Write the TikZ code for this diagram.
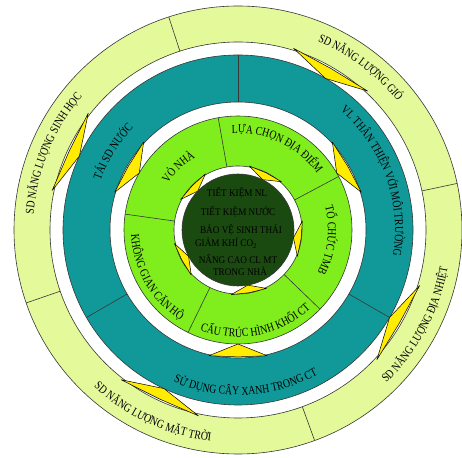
\documentclass[tikz,border=0pt]{standalone}
\usepackage{fontspec}
\setmainfont{Liberation Serif}
\newfontfamily\ringfont{Liberation Serif}[FakeStretch=0.82]
\newfontfamily\corefont{Liberation Serif}[FakeStretch=0.9]
\usetikzlibrary{decorations.text}

\definecolor{ringpale}{RGB}{228,249,154}
\definecolor{ringteal}{RGB}{17,153,153}
\definecolor{ringlime}{RGB}{128,238,28}
\definecolor{coredark}{RGB}{26,74,16}
\definecolor{wedgeyellow}{RGB}{255,236,0}
\definecolor{edgegray}{RGB}{55,55,55}

\tikzset{
  ringedge/.style={draw=edgegray, line width=0.6pt},
  divider/.style={draw=edgegray, line width=0.6pt},
  wedge/.style={fill=wedgeyellow, draw=black, line width=0.5pt, line join=round},
  arctext/.style={decorate, decoration={text along path, text align=center,
      text={|\ringfont\fontsize{12}{14}\selectfont|#1}}},
  coretext/.style={font=\corefont\fontsize{10.2}{12}\selectfont, text=black, inner sep=0pt},
}

% annulus between two radii
\newcommand\annulus[3]{%
  \fill[#1, even odd rule] (0,0) circle[radius=#2] (0,0) circle[radius=#3];
  \draw[ringedge] (0,0) circle[radius=#2];
  \draw[ringedge] (0,0) circle[radius=#3];}
% radial divider: angle, inner radius, outer radius
\newcommand\radial[3]{\draw[divider] (#1:#2) -- (#1:#3);}
% yellow wedge: centre angle, half span, tip radius, inner radius
\newcommand\wedgeat[4]{%
  \filldraw[wedge] ({#1+#2}:#3) -- (#1:#4) -- ({#1-#2}:#3)
    -- (#1:{#3*cos(#2)+1.2}) -- cycle;}
% text running clockwise (tops outward): centre angle, baseline radius, text
\newcommand\cwtext[3]{%
  \path[arctext={#3}] ({#1+60}:#2) arc[start angle={#1+60}, end angle={#1-60}, radius=#2];}
% text running counter-clockwise (tops inward)
\newcommand\ccwtext[3]{%
  \path[arctext={#3}] ({#1-60}:#2) arc[start angle={#1-60}, end angle={#1+60}, radius=#2];}

\begin{document}
\begin{tikzpicture}[x=1pt, y=1pt]
\useasboundingbox (0,0) rectangle (462,457);
\fill[white] (0,0) rectangle (462,457);

\begin{scope}[shift={(238,227)}]
  % rings
  \annulus{ringpale}{224}{188}
  \annulus{ringteal}{175}{128}
  \annulus{ringlime}{114}{64}
  \filldraw[fill=coredark, draw=edgegray, line width=0.6pt] (0,0) circle[radius=56];

  % dividers of the outer ring
  \foreach \a in {108,199,290,12} {\radial{\a}{188}{224}}
  % dividers of the teal ring
  \foreach \a in {90,210,330} {\radial{\a}{128}{175}}
  % dividers of the lime ring
  \foreach \a in {28,100,172,244,316} {\radial{\a}{64}{114}}

  % yellow wedges in the gaps
  \foreach \a in {60,155,245,330} {\wedgeat{\a}{13}{190}{175}}
  \foreach \a in {30,150,270} {\wedgeat{\a}{13}{129}{114}}
  \foreach \a in {64,136,208,280,352} {\wedgeat{\a}{16}{65}{56}}

  % outer ring labels
  \cwtext{53}{205}{SD NĂNG LƯỢNG GIÓ}
  \cwtext{157.5}{205}{SD NĂNG LƯỢNG SINH HỌC}
  \ccwtext{-28}{213}{SD NĂNG LƯỢNG ĐỊA NHIỆT}
  \ccwtext{-115}{213}{SD NĂNG LƯỢNG MẶT TRỜI}

  % teal ring labels
  \cwtext{148}{146}{TÁI SD NƯỚC}
  \cwtext{20}{157}{VL THÂN THIỆN VỚI MÔI TRƯỜNG}
  \ccwtext{-87}{165}{SỬ DỤNG CÂY XANH TRONG CT}

  % lime ring labels
  \cwtext{133.5}{84}{VỎ NHÀ}
  \cwtext{64.5}{97}{LỰA CHỌN ĐỊA ĐIỂM}
  \cwtext{-6.5}{90}{TỔ CHỨC TMB}
  \ccwtext{-79}{107}{CẤU TRÚC HÌNH KHỐI CT}
  \ccwtext{210}{107}{KHÔNG GIAN CĂN HỘ}
\end{scope}

% core text
\node[coretext] (l1) at (237,264) {TIẾT KIỆM NL};
\node[coretext] (l2) at (238,245) {TIẾT KIỆM NƯỚC};
\node[coretext] (l3) at (241,227) {BẢO VỆ SINH THÁI};
\node[coretext] (l4) at (226,214) {GIẢM KHÍ CO\textsubscript{2}};
\node[coretext] (l5) at (238,198) {NÂNG CAO CL MT};
\node[coretext] (l6) at (240,186) {TRONG NHÀ};
\end{tikzpicture}
\end{document}
